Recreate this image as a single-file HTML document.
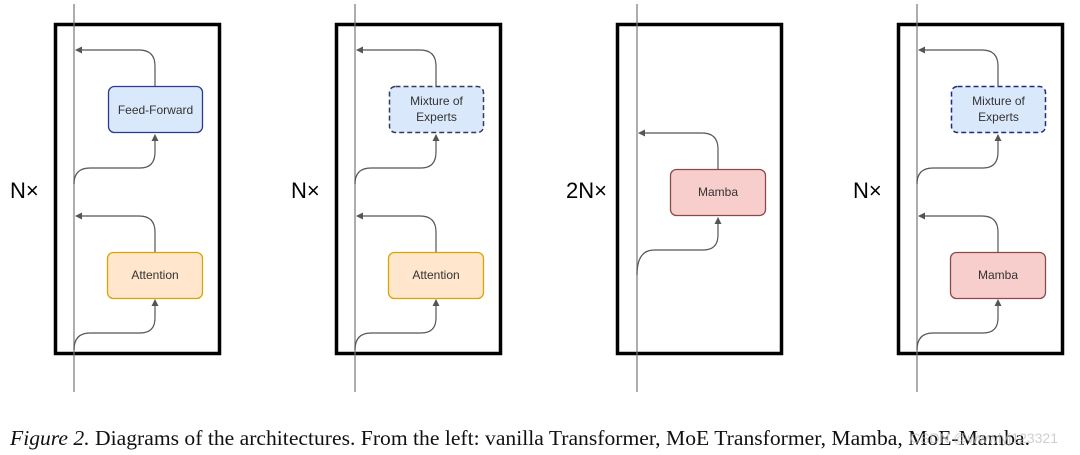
<!DOCTYPE html>
<html><head><meta charset="utf-8"><style>
body{margin:0;background:#fff;width:1080px;height:455px;overflow:hidden}
svg{position:absolute;left:0;top:0}
</style></head><body>
<svg width="1080" height="455" viewBox="0 0 1080 455" xmlns="http://www.w3.org/2000/svg">
<defs>
<marker id="a" markerWidth="8" markerHeight="8" refX="6" refY="4" orient="auto" markerUnits="userSpaceOnUse">
<path d="M0,0.5 L7,4 L0,7.5 Z" fill="#555"/></marker>
</defs>
<g font-family="Liberation Sans, sans-serif" fill="none">
<g transform="translate(0,0)">
<rect x="55.5" y="24.5" width="164" height="329" stroke="#000" stroke-width="3.5"/>
<line x1="74" y1="4" x2="74" y2="392" stroke="#777" stroke-width="1.2"/>
<path d="M155,86 L155,66 Q155,50 139,50 L76,50" stroke="#555" stroke-width="1.2" marker-end="url(#a)"/>
<path d="M74,184 Q74,168 90,168 L140,168 Q155,168 155,152 L155,135" stroke="#555" stroke-width="1.2" marker-end="url(#a)"/>
<path d="M155,252 L155,232 Q155,216 139,216 L76,216" stroke="#555" stroke-width="1.2" marker-end="url(#a)"/>
<path d="M74,350 Q74,333 90,333 L140,333 Q155,333 155,318 L155,300" stroke="#555" stroke-width="1.2" marker-end="url(#a)"/>
<rect x="108.5" y="86.5" width="94" height="46" rx="6" fill="#dae8fc" stroke="#2b3a8e" stroke-width="1.3"/>
<text x="155.5" y="114" font-size="12" fill="#333" text-anchor="middle">Feed-Forward</text>
<rect x="107.5" y="252.5" width="95" height="46" rx="6" fill="#ffe6cc" stroke="#d9a400" stroke-width="1.3"/>
<text x="155" y="279" font-size="12" fill="#333" text-anchor="middle">Attention</text>
<text x="10" y="198" font-size="22" fill="#000">N×</text>
</g>
<g transform="translate(281,0)">
<rect x="55.5" y="24.5" width="164" height="329" stroke="#000" stroke-width="3.5"/>
<line x1="74" y1="4" x2="74" y2="392" stroke="#777" stroke-width="1.2"/>
<path d="M155,86 L155,66 Q155,50 139,50 L76,50" stroke="#555" stroke-width="1.2" marker-end="url(#a)"/>
<path d="M74,184 Q74,168 90,168 L140,168 Q155,168 155,152 L155,135" stroke="#555" stroke-width="1.2" marker-end="url(#a)"/>
<path d="M155,252 L155,232 Q155,216 139,216 L76,216" stroke="#555" stroke-width="1.2" marker-end="url(#a)"/>
<path d="M74,350 Q74,333 90,333 L140,333 Q155,333 155,318 L155,300" stroke="#555" stroke-width="1.2" marker-end="url(#a)"/>
<rect x="108.5" y="86.5" width="94" height="46" rx="6" fill="#dae8fc" stroke="#333a5e" stroke-width="1.5" stroke-dasharray="5,3"/>
<text x="155.5" y="105" font-size="12" fill="#333" text-anchor="middle">Mixture of</text>
<text x="155.5" y="121" font-size="12" fill="#333" text-anchor="middle">Experts</text>
<rect x="107.5" y="252.5" width="95" height="46" rx="6" fill="#ffe6cc" stroke="#d9a400" stroke-width="1.3"/>
<text x="155" y="279" font-size="12" fill="#333" text-anchor="middle">Attention</text>
<text x="10" y="198" font-size="22" fill="#000">N×</text>
</g>
<g transform="translate(562,0)">
<rect x="55.5" y="24.5" width="164" height="329" stroke="#000" stroke-width="3.5"/>
<line x1="75" y1="4" x2="75" y2="392" stroke="#777" stroke-width="1.2"/>
<path d="M156,169 L156,149 Q156,133 140,133 L77,133" stroke="#555" stroke-width="1.2" marker-end="url(#a)"/>
<path d="M75,275 Q75,250 92,250 L141,250 Q156,250 156,235 L156,218" stroke="#555" stroke-width="1.2" marker-end="url(#a)"/>
<rect x="108.5" y="169.5" width="95" height="46" rx="6" fill="#f8cecc" stroke="#8a4a4a" stroke-width="1.3"/>
<text x="156" y="196" font-size="12" fill="#333" text-anchor="middle">Mamba</text>
<text x="4" y="198" font-size="22" fill="#000">2N×</text>
</g>
<g transform="translate(843,0)">
<rect x="55.5" y="24.5" width="164" height="329" stroke="#000" stroke-width="3.5"/>
<line x1="74" y1="4" x2="74" y2="392" stroke="#777" stroke-width="1.2"/>
<path d="M155,86 L155,66 Q155,50 139,50 L76,50" stroke="#555" stroke-width="1.2" marker-end="url(#a)"/>
<path d="M74,184 Q74,168 90,168 L140,168 Q155,168 155,152 L155,135" stroke="#555" stroke-width="1.2" marker-end="url(#a)"/>
<path d="M155,252 L155,232 Q155,216 139,216 L76,216" stroke="#555" stroke-width="1.2" marker-end="url(#a)"/>
<path d="M74,350 Q74,333 90,333 L140,333 Q155,333 155,318 L155,300" stroke="#555" stroke-width="1.2" marker-end="url(#a)"/>
<rect x="108.5" y="86.5" width="94" height="46" rx="6" fill="#dae8fc" stroke="#1f2a80" stroke-width="1.5" stroke-dasharray="5,3"/>
<text x="155.5" y="105" font-size="12" fill="#333" text-anchor="middle">Mixture of</text>
<text x="155.5" y="121" font-size="12" fill="#333" text-anchor="middle">Experts</text>
<rect x="107.5" y="252.5" width="95" height="46" rx="6" fill="#f8cecc" stroke="#8a4a4a" stroke-width="1.3"/>
<text x="155" y="279" font-size="12" fill="#333" text-anchor="middle">Mamba</text>
<text x="10" y="198" font-size="22" fill="#000">N×</text>
</g>
</g>
<text x="10" y="445" font-family="Liberation Serif, serif" font-size="21" fill="#111" textLength="1020" lengthAdjust="spacingAndGlyphs"><tspan font-style="italic">Figure 2.</tspan>  Diagrams of the architectures. From the left: vanilla Transformer, MoE Transformer, Mamba, MoE-Mamba.</text>
<text x="910" y="443" font-family="Liberation Sans, sans-serif" font-size="14" fill="#bbb" fill-opacity="0.7" textLength="148" lengthAdjust="spacingAndGlyphs">CSDN @wwwlyj123321</text>
</svg>
</body></html>
